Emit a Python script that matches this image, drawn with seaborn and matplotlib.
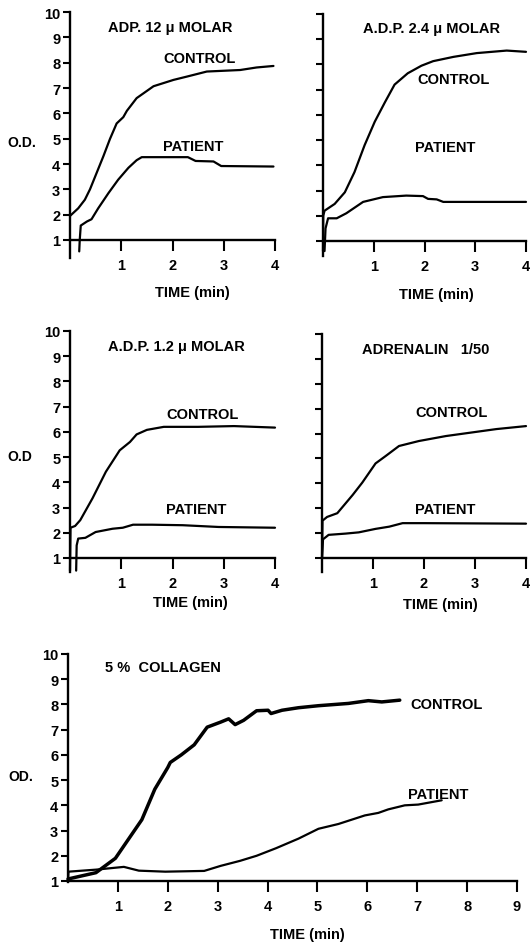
import matplotlib
matplotlib.use("Agg")
import matplotlib.pyplot as plt
import seaborn as sns
import pandas as pd

# ---------------- data (time in min, optical density) ----------------
adp12_control_t = [0.0, 0.16, 0.29, 0.39, 0.52, 0.65, 0.78, 0.91, 1.04, 1.11, 1.3, 1.63, 2.02, 2.28, 2.67, 3.32, 3.64, 3.97]
adp12_control_v = [1.95, 2.25, 2.59, 3.0, 3.65, 4.3, 4.99, 5.6, 5.85, 6.1, 6.6, 7.07, 7.32, 7.45, 7.65, 7.71, 7.81, 7.87]
adp12_patient_t = [0.18, 0.19, 0.21, 0.33, 0.42, 0.55, 0.75, 0.94, 1.14, 1.3, 1.4, 2.3, 2.45, 2.8, 2.95, 3.97]
adp12_patient_v = [0.55, 1.0, 1.57, 1.73, 1.82, 2.25, 2.85, 3.38, 3.85, 4.15, 4.27, 4.27, 4.12, 4.1, 3.92, 3.9]

adp24_control_t = [0.0, 0.005, 0.03, 0.23, 0.43, 0.62, 0.82, 1.02, 1.22, 1.41, 1.67, 1.94, 2.17, 2.57, 3.03, 3.62, 4.0]
adp24_control_v = [0.6, 2.0, 2.2, 2.47, 2.93, 3.73, 4.8, 5.73, 6.5, 7.2, 7.65, 7.95, 8.13, 8.3, 8.45, 8.55, 8.5]
adp24_patient_t = [0.03, 0.05, 0.1, 0.27, 0.46, 0.79, 1.18, 1.64, 1.97, 2.07, 2.24, 2.37, 4.0]
adp24_patient_v = [0.6, 1.5, 1.9, 1.9, 2.1, 2.55, 2.74, 2.8, 2.78, 2.67, 2.65, 2.55, 2.55]

adp12b_control_t = [0.0, 0.01, 0.1, 0.2, 0.44, 0.7, 0.97, 1.17, 1.3, 1.5, 1.83, 2.5, 3.2, 4.0]
adp12b_control_v = [0.5, 2.2, 2.27, 2.5, 3.37, 4.42, 5.27, 5.6, 5.9, 6.08, 6.2, 6.2, 6.23, 6.17]
adp12b_patient_t = [0.12, 0.13, 0.16, 0.3, 0.5, 0.83, 1.03, 1.23, 1.6, 2.2, 2.9, 4.0]
adp12b_patient_v = [0.5, 1.5, 1.77, 1.8, 2.03, 2.16, 2.2, 2.32, 2.32, 2.3, 2.23, 2.2]

adren_control_t = [0.0, 0.01, 0.1, 0.3, 0.6, 0.79, 1.05, 1.25, 1.51, 1.9, 2.43, 2.96, 3.42, 4.0]
adren_control_v = [1.0, 2.5, 2.65, 2.8, 3.53, 4.03, 4.8, 5.1, 5.5, 5.7, 5.9, 6.05, 6.18, 6.3]
adren_patient_t = [0.0, 0.02, 0.13, 0.46, 0.72, 1.05, 1.32, 1.58, 2.0, 4.0]
adren_patient_v = [1.0, 1.75, 1.93, 1.98, 2.03, 2.17, 2.26, 2.4, 2.4, 2.38]

coll_control_t = [0.0, 0.56, 0.95, 1.22, 1.48, 1.74, 2.0, 2.05, 2.27, 2.53, 2.79, 3.06, 3.22, 3.35,
                  3.52, 3.78, 4.01, 4.07, 4.29, 4.62, 5.02, 5.62, 6.02, 6.29, 6.65]
coll_control_v = [1.08, 1.33, 1.9, 2.68, 3.43, 4.64, 5.5, 5.7, 6.0, 6.4, 7.1, 7.3, 7.43, 7.2,
                  7.37, 7.75, 7.77, 7.64, 7.77, 7.87, 7.95, 8.04, 8.15, 8.1, 8.17]
coll_patient_t = [0.0, 0.01, 0.56, 1.12, 1.42, 1.95, 2.73, 3.06, 3.45, 3.78, 4.17, 4.62, 5.02,
                  5.42, 5.95, 6.22, 6.42, 6.75, 7.02, 7.49]
coll_patient_v = [1.0, 1.37, 1.45, 1.56, 1.41, 1.37, 1.4, 1.6, 1.8, 2.0, 2.3, 2.68, 3.07,
                  3.26, 3.6, 3.7, 3.84, 4.0, 4.03, 4.2]

y_ticks = list(range(1, 11))
y_tick_labels = [str(v) for v in y_ticks]

# ---------------- figure ----------------
sns.set_theme(style="white")
plt.rcParams["font.family"] = ["Liberation Sans", "DejaVu Sans"]
plt.rcParams["font.weight"] = "bold"
W, H = 530, 945
fig = plt.figure(figsize=(W / 100, H / 100), dpi=100)
fig.patch.set_facecolor("white")


def add_ax(left, right, top10, px1, ybot):
    unit = (px1 - top10) / 9.0
    bottom = px1 + (1 - ybot) * unit
    ax = fig.add_axes([left / W, 1 - bottom / H, (right - left) / W, (bottom - top10) / H])
    ax.set_ylim(ybot, 10)
    return ax


def style(ax, xmax, ylabels=True):
    ax.set_facecolor("white")
    ax.set_xlim(0, xmax)
    for s in ["top", "right"]:
        ax.spines[s].set_visible(False)
    for s in ["left", "bottom"]:
        ax.spines[s].set_color("black")
        ax.spines[s].set_linewidth(1.7)
    ax.spines["bottom"].set_position(("data", 1))
    ax.set_xticks(list(range(1, xmax + 1)))
    ax.set_xticklabels([str(v) for v in range(1, xmax + 1)], fontsize=10.5, fontweight="bold")
    ax.set_yticks(y_ticks)
    if ylabels:
        ax.set_yticklabels(y_tick_labels, fontsize=10.5, fontweight="bold")
    else:
        ax.set_yticklabels([])
    ax.tick_params(axis="x", direction="out", length=8, width=1.5, pad=5, colors="black", bottom=True)
    ax.tick_params(axis="y", direction="out", length=5, width=1.5, pad=2, colors="black", left=True)
    ax.set_xlabel("")
    ax.set_ylabel("")
    ax.grid(False)


def curve(ax, t, v, lw=1.6):
    df = pd.DataFrame({"t": t, "v": v})
    sns.lineplot(data=df, x="t", y="v", ax=ax, color="black", linewidth=lw,
                 estimator=None, sort=False, clip_on=False)


def txt(x, y, s, size=10.5, ha="left"):
    fig.text(x / W, 1 - y / H, s, ha=ha, va="center", fontsize=size, color="black",
             fontweight="bold")


# panel 1
ax1 = add_ax(70, 275, 13, 241, 0.3)
curve(ax1, adp12_control_t, adp12_control_v)
curve(ax1, adp12_patient_t, adp12_patient_v)
style(ax1, 4)

# panel 2
ax2 = add_ax(323, 526, 15, 242, 0.4)
curve(ax2, adp24_control_t, adp24_control_v)
curve(ax2, adp24_patient_t, adp24_patient_v)
style(ax2, 4, ylabels=False)

# panel 3
ax3 = add_ax(70, 275, 332, 559, 0.45)
curve(ax3, adp12b_control_t, adp12b_control_v)
curve(ax3, adp12b_patient_t, adp12b_patient_v)
style(ax3, 4)

# panel 4
ax4 = add_ax(322, 526, 335, 559, 0.45)
curve(ax4, adren_control_t, adren_control_v)
curve(ax4, adren_patient_t, adren_patient_v)
style(ax4, 4, ylabels=False)

# panel 5
ax5 = add_ax(68, 517, 655, 882, 0.97)
curve(ax5, coll_control_t, coll_control_v, lw=2.5)
curve(ax5, coll_patient_t, coll_patient_v, lw=1.6)
style(ax5, 9)

# texts
txt(108, 28, "ADP. 12 μ MOLAR")
txt(163, 59, "CONTROL")
txt(163, 147, "PATIENT")
txt(7, 143, "O.D.", size=10)
txt(192, 293, "TIME (min)", ha="center")

txt(363, 29, "A.D.P. 2.4 μ MOLAR")
txt(417, 80, "CONTROL")
txt(415, 148, "PATIENT")
txt(436, 295, "TIME (min)", ha="center")

txt(108, 347, "A.D.P. 1.2 μ MOLAR")
txt(166, 415, "CONTROL")
txt(166, 510, "PATIENT")
txt(7, 457, "O.D", size=10)
txt(190, 603, "TIME (min)", ha="center")

txt(362, 350, "ADRENALIN   1/50")
txt(415, 413, "CONTROL")
txt(415, 510, "PATIENT")
txt(440, 605, "TIME (min)", ha="center")

txt(105, 668, "5 %  COLLAGEN")
txt(410, 705, "CONTROL")
txt(408, 795, "PATIENT")
txt(8, 777, "OD.", size=10)
txt(307, 935, "TIME (min)", ha="center")

fig.savefig("out.png", dpi=100, facecolor="white")
